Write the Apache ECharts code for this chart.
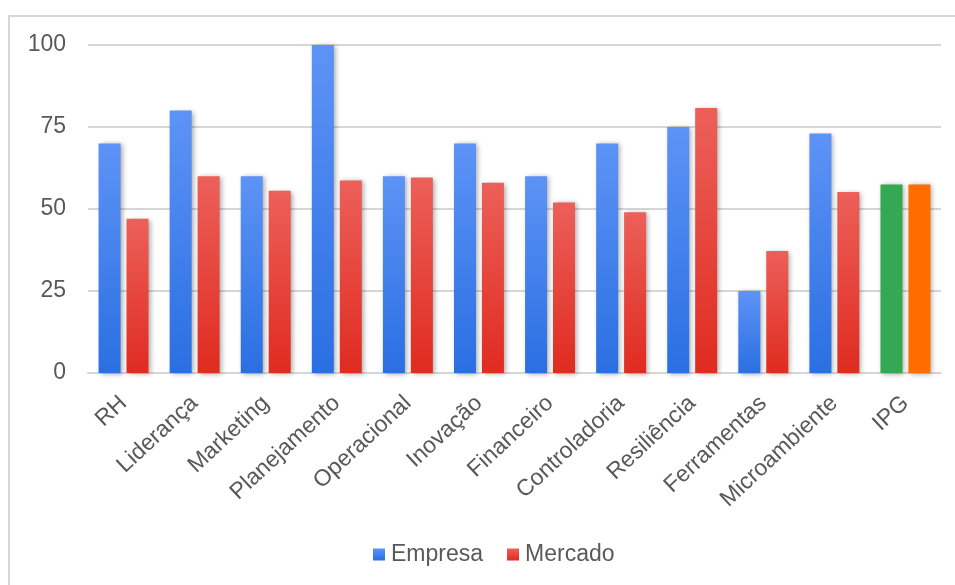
<!DOCTYPE html>
<html>
<head>
<meta charset="utf-8">
<script src="https://cdn.jsdelivr.net/npm/echarts@6/dist/echarts.min.js"></script>
<style>
  html, body { margin: 0; padding: 0; background: #fff; }
  #chart { width: 955px; height: 585px; }
</style>
</head>
<body>
<div id="chart"></div>
<script>
const categories = ['RH', 'Liderança', 'Marketing', 'Planejamento', 'Operacional', 'Inovação',
  'Financeiro', 'Controladoria', 'Resiliência', 'Ferramentas', 'Microambiente', 'IPG'];
const empresa = [70, 80, 60, 100, 60, 70, 60, 70, 75, 25, 73, 57.5];
const mercado = [47, 60, 55.6, 58.7, 59.6, 58, 52, 49, 80.8, 37.2, 55.2, 57.5];
const yTicks = [0, 25, 50, 75, 100];

const grad = (top, bottom) => new echarts.graphic.LinearGradient(0, 0, 0, 1, [
  { offset: 0, color: top },
  { offset: 1, color: bottom }
]);

const blue = grad('#5d93f6', '#2a6fe2');
const red = grad('#ec6059', '#e02b20');
const shadow = { shadowBlur: 5, shadowOffsetX: 2, shadowOffsetY: 1, shadowColor: 'rgba(0,0,0,0.35)' };

// last category (IPG) gets its own solid colours
const toItems = (vals, special) => vals.map((v, i) =>
  i === vals.length - 1 ? { value: v, itemStyle: { color: special } } : v);

const chart = echarts.init(document.getElementById('chart'), null, { renderer: 'canvas' });
const font = '"Liberation Sans", Arial, sans-serif';
const textGray = '#595959';

chart.setOption({
  animation: false,
  textStyle: { fontFamily: font },
  graphic: [{
    type: 'rect',
    shape: { x: 9, y: 16, width: 960, height: 600 },
    style: { fill: 'none', stroke: '#d6d6d6', lineWidth: 2 },
    silent: true
  }],
  grid: { left: 88, right: 14, top: 45, bottom: 212 },
  legend: {
    bottom: 14,
    left: 368,
    itemWidth: 12,
    itemHeight: 12,
    itemGap: 24,
    icon: 'rect',
    textStyle: { fontSize: 23, color: textGray, fontFamily: font, padding: [0, 0, 0, 1] },
    data: ['Empresa', 'Mercado']
  },
  xAxis: {
    type: 'category',
    data: categories,
    axisLine: { lineStyle: { color: '#d6d6d6', width: 2 } },
    axisTick: { show: false },
    axisLabel: { rotate: 43, fontSize: 23, color: textGray, margin: 27, interval: 0 }
  },
  yAxis: {
    type: 'value',
    min: yTicks[0],
    max: yTicks[yTicks.length - 1],
    interval: 25,
    axisLine: { show: false },
    axisTick: { show: false },
    axisLabel: { fontSize: 23, color: textGray, margin: 22 },
    splitLine: { lineStyle: { color: '#d6d6d6', width: 2 } }
  },
  series: [
    {
      name: 'Empresa',
      type: 'bar',
      barWidth: 22,
      barGap: '27%',
      itemStyle: Object.assign({ color: blue }, shadow),
      data: toItems(empresa, '#34a853')
    },
    {
      name: 'Mercado',
      type: 'bar',
      barWidth: 22,
      itemStyle: Object.assign({ color: red }, shadow),
      data: toItems(mercado, '#ff6d01')
    }
  ]
});
</script>
</body>
</html>
